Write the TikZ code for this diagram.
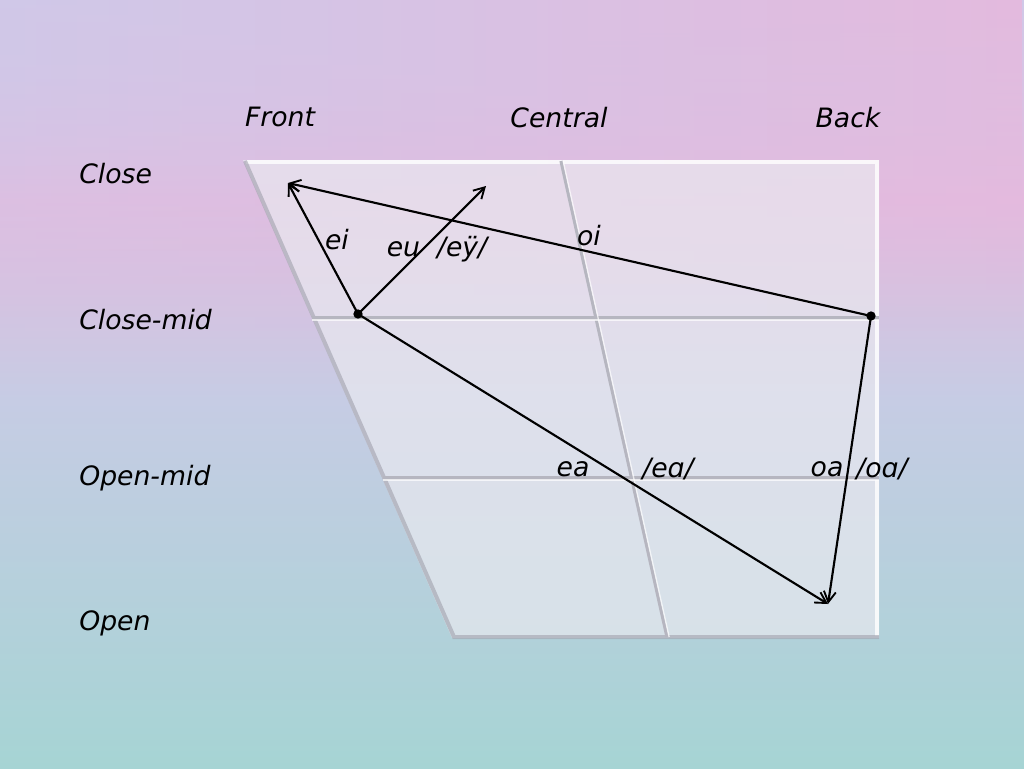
\documentclass[tikz,border=0pt]{standalone}
\usepackage{fontspec}
\setmainfont{DejaVu Sans}
\usetikzlibrary{arrows.meta,fadings}
\definecolor{bgtop}{RGB}{208,200,232}
\definecolor{bgpink}{RGB}{228,186,222}
\definecolor{bgmid}{RGB}{198,204,228}
\definecolor{bgbot}{RGB}{166,212,212}
\definecolor{groove}{RGB}{182,182,192}
\definecolor{bevelgray}{RGB}{160,160,172}
\definecolor{panelcol}{RGB}{234,234,240}
\tikzset{
  lbl/.style={font=\fontsize{20}{23}\selectfont\itshape, inner sep=0pt, text=black},
  axis/.style={lbl, anchor=west},
  conn/.style={line width=1.6pt, black, -{Straight Barb[length=8pt,width=9pt,line width=1.4pt]}},
  dotmark/.style={circle, fill=black, inner sep=0pt, minimum size=7pt},
  gridline/.style={groove, line width=2.4pt},
  gridhl/.style={white, opacity=0.7, line width=1pt}
}
\begin{document}
\begin{tikzpicture}[x=0.75pt,y=-0.75pt]
\useasboundingbox (0,0) rectangle (1024,768);
% background
\shade[top color=bgtop, bottom color=bgmid, middle color=bgpink] (0,0) rectangle (1024,400);
\shade[top color=bgmid, bottom color=bgbot] (0,400) rectangle (1024,768);
\shade[left color=bgtop, right color=bgpink, path fading=south] (0,0) rectangle (1024,330);
% panel
\fill[panelcol, opacity=0.68] (243,160) -- (879,160) -- (879,638) -- (452,638) -- cycle;
% bevels
\draw[white, opacity=0.8, line width=3pt] (246,162) -- (877,162) -- (877,636);
\draw[bevelgray, opacity=0.6, line width=3pt] (245,161) -- (454,637) -- (879,637);
% grid
\coordinate (CM1) at (312,318);
\coordinate (CM2) at (879,318);
\coordinate (OM1) at (383,478);
\coordinate (OM2) at (879,478);
\coordinate (C1) at (561,161);
\coordinate (C2) at (667,637);
\draw[gridline] (CM1) -- (CM2);
\draw[gridline] (OM1) -- (OM2);
\draw[gridline] (C1) -- (C2);
\draw[gridhl] ([yshift=-1.6pt]CM1) -- ([yshift=-1.6pt]CM2);
\draw[gridhl] ([yshift=-1.6pt]OM1) -- ([yshift=-1.6pt]OM2);
\draw[gridhl] ([xshift=1.6pt]C1) -- ([xshift=1.6pt]C2);
% axis labels
\node[lbl] (front) at (280,117) {Front};
\node[lbl] (central) at (559,118) {Central};
\node[lbl] (back) at (848,118) {Back};
\node[axis] (close) at (79,174) {Close};
\node[axis] (closemid) at (79,320) {Close-mid};
\node[axis] (openmid) at (79,478) {Open-mid};
\node[axis] (open) at (79,623) {Open};
% vowel points
\node[dotmark] (E) at (358,314) {};
\node[dotmark] (O) at (871,316) {};
\coordinate (I) at (288,183);
\coordinate (U) at (486,186);
\coordinate (A) at (828,604);
\draw[conn] (E.center) -- (I);
\draw[conn] (O.center) -- (I);
\draw[conn] (E.center) -- (U);
\draw[conn] (E.center) -- (A);
\draw[conn] (O.center) -- (A);
% diphthong labels
\node[lbl] (ei) at (337,240) {ei};
\node[lbl] (eu) at (437,249) {eu\ \ /eÿ/};
\node[lbl] (oi) at (589,236) {oi};
\node[lbl] (ea) at (573,469) {ea};
\node[lbl] (eaipa) at (668,469) {/eɑ/};
\node[lbl] (oa) at (827,469) {oa};
\node[lbl] (oaipa) at (882,469) {/oɑ/};
\end{tikzpicture}
\end{document}
